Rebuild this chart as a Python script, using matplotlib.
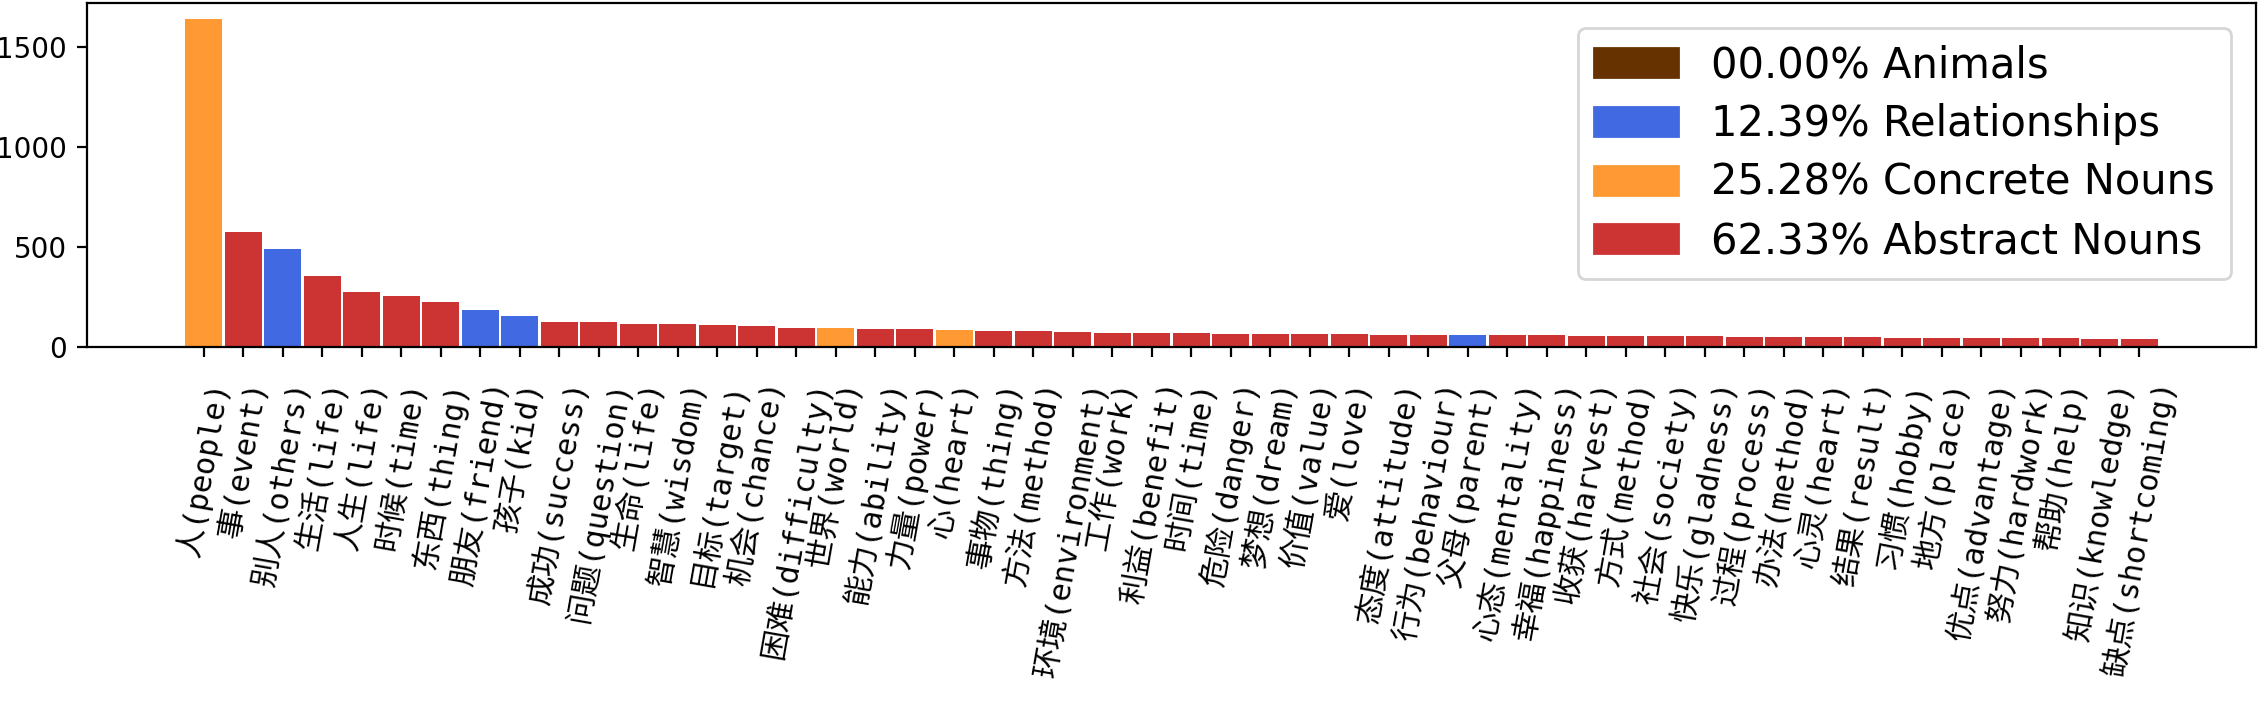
import matplotlib
matplotlib.use("Agg")
import matplotlib.pyplot as plt
from matplotlib.patches import Patch

words = ["人(people)", "事(event)", "别人(others)", "生活(life)", "人生(life)", "时候(time)",
         "东西(thing)", "朋友(friend)", "孩子(kid)", "成功(success)", "问题(question)",
         "生命(life)", "智慧(wisdom)", "目标(target)", "机会(chance)", "困难(difficulty)",
         "世界(world)", "能力(ability)", "力量(power)", "心(heart)", "事物(thing)",
         "方法(method)", "环境(environment)", "工作(work)", "利益(benefit)", "时间(time)",
         "危险(danger)", "梦想(dream)", "价值(value)", "爱(love)", "态度(attitude)",
         "行为(behaviour)", "父母(parent)", "心态(mentality)", "幸福(happiness)",
         "收获(harvest)", "方式(method)", "社会(society)", "快乐(gladness)", "过程(process)",
         "办法(method)", "心灵(heart)", "结果(result)", "习惯(hobby)", "地方(place)",
         "优点(advantage)", "努力(hardwork)", "帮助(help)", "知识(knowledge)", "缺点(shortcoming)"]

counts = [1640, 575, 490, 355, 273, 255, 225, 185, 155, 125,
          125, 115, 115, 110, 105, 95, 95, 90, 90, 85,
          80, 80, 75, 70, 70, 70, 65, 65, 65, 65,
          60, 60, 60, 60, 60, 55, 55, 55, 55, 50,
          50, 50, 50, 45, 45, 45, 45, 45, 40, 40]

# R = relationships, C = concrete nouns, A = abstract nouns
cats = ["C", "A", "R", "A", "A", "A", "A", "R", "R", "A",
        "A", "A", "A", "A", "A", "A", "C", "A", "A", "C",
        "A", "A", "A", "A", "A", "A", "A", "A", "A", "A",
        "A", "A", "R", "A", "A", "A", "A", "A", "A", "A",
        "A", "A", "A", "A", "A", "A", "A", "A", "A", "A"]

legend_keys = ["N", "R", "C", "A"]
legend_labels = ["00.00% Animals", "12.39% Relationships", "25.28% Concrete Nouns", "62.33% Abstract Nouns"]
colors = {"N": "#663300", "R": "#4169e1", "C": "#ff9933", "A": "#cc3333"}

fig = plt.figure(figsize=(11.305, 3.535), dpi=200)
ax = fig.add_axes([0.0383, 0.5096, 0.9597, 0.4866])

x = range(len(words))
ax.bar(x, counts, width=0.94, color=[colors[c] for c in cats])

ax.set_yticks([0, 500, 1000, 1500])
ax.set_xticks(list(x))
ax.set_xticklabels(words, rotation=80, ha="center", va="top",
                   family=["DejaVu Sans Mono", "Noto Sans CJK SC"], fontsize=11)
ax.tick_params(axis="x", pad=8)

handles = [Patch(color=colors[k]) for k in legend_keys]
ax.legend(handles, legend_labels, loc="upper right", fontsize=15,
          labelspacing=0.4, borderaxespad=0.6)

plt.savefig("out.png", dpi=200)
